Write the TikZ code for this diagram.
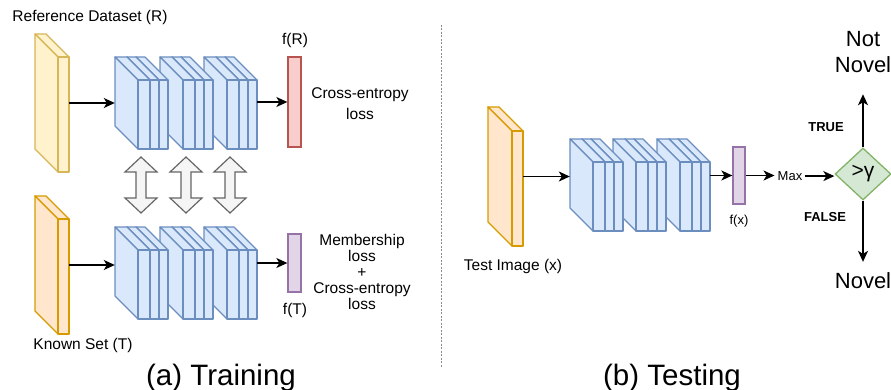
\documentclass[tikz,border=0pt]{standalone}
\usepackage{fontspec}
\setmainfont{Liberation Sans}
\usepackage{xcolor}
\usepackage{tikz}
\usetikzlibrary{positioning,shapes,arrows,fit}
\usetikzlibrary{arrows.meta}
\tikzset{>={Stealth[length=11pt,width=10pt,inset=3pt]}}

\definecolor{yellowFill}{HTML}{FFF2CC}
\definecolor{yellowLine}{HTML}{D6B656}
\definecolor{orangeFill}{HTML}{FFE6CC}
\definecolor{orangeLine}{HTML}{D79B00}
\definecolor{blueFill}{HTML}{DAE8FC}
\definecolor{blueLine}{HTML}{6C8EBF}
\definecolor{redFill}{HTML}{F8CECC}
\definecolor{redLine}{HTML}{B85450}
\definecolor{purpleFill}{HTML}{E1D5E7}
\definecolor{purpleLine}{HTML}{9673A6}
\definecolor{greenFill}{HTML}{D5E8D4}
\definecolor{greenLine}{HTML}{82B366}
\definecolor{grayFill}{HTML}{F5F5F5}
\definecolor{grayLine}{HTML}{666666}

\tikzstyle{refSlab}=[fill=yellowFill, draw=yellowLine, line width=1.3pt, line join=round]
\tikzstyle{imgSlab}=[fill=orangeFill, draw=orangeLine, line width=1.4pt, line join=round]
\tikzstyle{netSlab}=[fill=blueFill, draw=blueLine, line width=1.2pt, line join=round]
\tikzstyle{feature}=[rectangle, line width=1.3pt, inner sep=0pt]
\tikzstyle{swapArrow}=[fill=grayFill, draw=grayLine, line width=1.2pt, line join=miter]
\tikzstyle{flow}=[->, line width=1.4pt]
\tikzstyle{txt}=[inner sep=0pt, text=black, font=\fontsize{15.5}{15.8}\selectfont]
\tikzstyle{small}=[inner sep=0pt, text=black, font=\fontsize{13}{13}\selectfont]
\tikzstyle{big}=[inner sep=0pt, text=black, font=\fontsize{22}{26.5}\selectfont]
\tikzstyle{caption}=[inner sep=0pt, text=black, font=\fontsize{29.5}{30}\selectfont]

% slab: style, front x, front y, width, height, depth
\newcommand{\drawslab}[6]{%
    \filldraw[#1] (#2,#3) -- ++(-#6,-#6) -- ++(#4,0) -- ++(#6,#6) -- cycle;
    \filldraw[#1] (#2,#3) -- ++(-#6,-#6) -- ++(0,#5) -- ++(#6,#6) -- cycle;
    \filldraw[#1] (#2,#3) rectangle ++(#4,#5);
}
\newcommand{\convblock}[3]{%
    \drawslab{netSlab}{#2+21}{#3}{9}{69}{23}
    \drawslab{netSlab}{#2+12}{#3}{9}{69}{23}
    \drawslab{netSlab}{#2}{#3}{12}{69}{23}
    \node (#1) [fit={(#2-23,#3-23) (#2+30,#3+69)}, inner sep=0pt] {};
}

\begin{document}
\begin{tikzpicture}[x=1pt, y=-1pt]

    \useasboundingbox (0,0) rectangle (891,390);

    % (a) training
    \drawslab{refSlab}{58}{57}{11}{115}{23}
    \node (refSet) [fit={(35,34) (69,172)}, inner sep=0pt] {};
    \node (refLabel) [txt, anchor=base] at (90,21.5) {Reference Dataset (R)};

    \drawslab{imgSlab}{58}{219}{11}{115}{23}
    \node (knownSet) [fit={(35,196) (69,334)}, inner sep=0pt] {};
    \node (knownLabel) [txt, anchor=base] at (83,349.5) {Known Set (T)};

    \foreach \i/\x in {3/227,2/183,1/138}{
        \convblock{netR\i}{\x}{80}
        \convblock{netT\i}{\x}{250}
    };

    \foreach \cx in {141,186,230}{
        \filldraw[swapArrow] (\cx,157) -- ++(16,15) -- ++(-11,0) -- ++(0,26) -- ++(11,0) -- ++(-16,15)
            -- ++(-16,-15) -- ++(11,0) -- ++(0,-26) -- ++(-11,0) -- cycle;
    };

    \node (fR) [feature, fill=redFill, draw=redLine, minimum width=13pt, minimum height=90pt] at (294.5,102) {};
    \node (fRLabel) [txt, anchor=base] at (295,44.5) {f(R)};
    \node (ceLoss) [txt, align=center, anchor=north, font=\fontsize{15.5}{20.5}\selectfont] at (360,87.7) {Cross-entropy\\loss};

    \node (fT) [feature, fill=purpleFill, draw=purpleLine, minimum width=13pt, minimum height=58pt] at (294.5,263) {};
    \node (fTLabel) [txt, anchor=base] at (295,314.5) {f(T)};
    \node (memLoss) [txt, align=center, anchor=north] at (362,234.4) {Membership\\loss\\+\\Cross-entropy\\loss};

    \draw [flow] (refSet.east) -- (refSet.east -| netR1.west);
    \draw [flow] (netR3.east |- fR.west) -- (fR.west);
    \draw [flow] (knownSet.east) -- (knownSet.east -| netT1.west);
    \draw [flow] (netT3.east |- fT.west) -- (fT.west);

    \node (trainCap) [caption, anchor=base] at (221,385) {(a) Training};

    \draw [black!45, line width=1.4pt, dash pattern=on 2pt off 1.5pt] (441.5,25) -- (441.5,367);

    % (b) testing
    \drawslab{imgSlab}{512}{131}{11}{115}{24}
    \node (testImg) [fit={(488,107) (523,246)}, inner sep=0pt] {};
    \node (testLabel) [txt, anchor=base] at (513,270.5) {Test Image (x)};

    \foreach \i/\x in {3/680,2/636,1/593}{
        \convblock{netX\i}{\x}{162}
    };

    \node (fx) [feature, fill=purpleFill, draw=purpleLine, minimum width=12pt, minimum height=57pt] at (739,175.5) {};
    \node (fxLabel) [small, anchor=base] at (739,224.5) {f(x)};
    \node (maxNode) [small, anchor=base, inner xsep=3pt, inner ysep=0pt] at (790,180.5) {Max};

    \node (gt) [diamond, fill=greenFill, draw=greenLine, line width=1.3pt, minimum width=56pt, minimum height=52pt,
        inner sep=0pt, font=\fontsize{21}{21}\selectfont] at (863,174) {>γ};

    \node (trueLabel) [small, anchor=base, font=\fontsize{13}{13}\selectfont\bfseries] at (826,132) {TRUE};
    \node (falseLabel) [small, anchor=base, font=\fontsize{13}{13}\selectfont\bfseries] at (825,222) {FALSE};
    \node (notNovel) [big, align=center, anchor=north] at (863,31) {Not\\Novel};
    \node (novel) [big, anchor=base] at (863,288) {Novel};

    \draw [flow] (testImg.east) -- (testImg.east -| netX1.west);
    \draw [flow] (netX3.east |- fx.west) -- (fx.west);
    \draw [flow] (fx.east) -- (fx.east -| maxNode.west);
    \draw [flow] (maxNode.east) -- (maxNode.east -| gt.west);
    \draw [flow] (gt.north) -- ([yshift=-21pt]notNovel.south);
    \draw [flow] (gt.south) -- ([yshift=10pt]novel.north);

    \node (testCap) [caption, anchor=base] at (672,385) {(b) Testing};

\end{tikzpicture}
\end{document}
